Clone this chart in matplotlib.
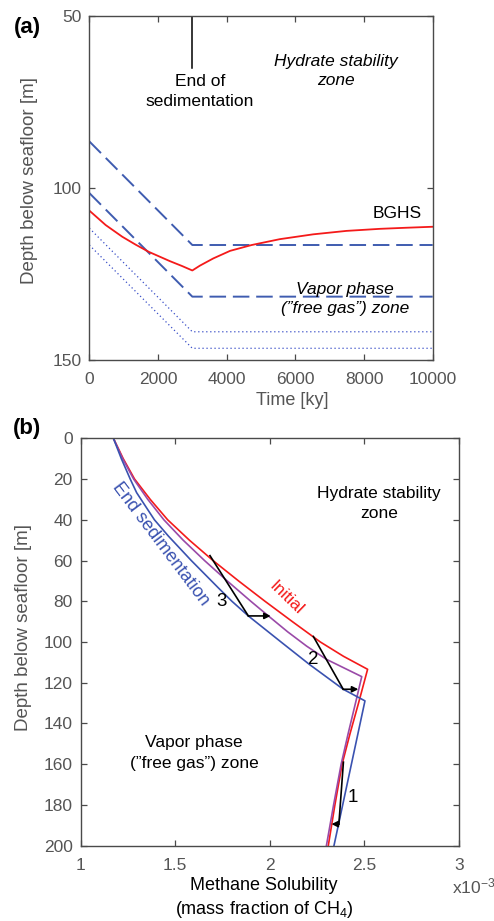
import matplotlib
matplotlib.use("Agg")
import matplotlib.pyplot as plt

plt.rcParams['font.family'] = ['Liberation Sans', 'DejaVu Sans']
plt.rcParams['mathtext.fontset'] = 'custom'
plt.rcParams['mathtext.rm'] = 'Liberation Sans'
plt.rcParams['mathtext.it'] = 'Liberation Sans:italic'

# ---- panel (a): depth of zones vs time ----
seg_time = [0, 3000, 10000]
hsz_upper = [86.5, 116.6, 116.6]     # dashed
hsz_lower = [101.5, 131.6, 131.6]    # dashed
gas_upper = [111.7, 141.8, 141.8]    # dotted
gas_lower = [116.6, 146.6, 146.6]    # dotted

bghs_time = [0, 250, 476, 960, 1350, 1735, 2350, 2700, 3000,
             3220, 3610, 4100, 4730, 5550, 6520, 7490, 8470, 9200, 10000]
bghs_depth = [106.6, 108.8, 110.8, 114.2, 116.5, 118.6, 121.3, 122.7, 124.0,
              122.6, 120.5, 118.3, 116.6, 114.9, 113.5, 112.5, 111.9, 111.6, 111.3]

end_sed_time = 3000
end_sed_depth = [50, 65.3]

# ---- panel (b): methane solubility profiles (x10^-3 mass fraction) ----
init_depth = [0, 10, 20, 30, 40, 50, 60, 70, 80, 90, 100, 107, 113.4,
              130, 145, 160, 180, 200]
init_sol = [1.173, 1.225, 1.285, 1.368, 1.46, 1.575, 1.70, 1.835, 1.975, 2.12,
            2.268, 2.39, 2.518, 2.47, 2.425, 2.383, 2.345, 2.31]

mid_depth = [0, 10, 20, 30, 40, 50, 60, 70, 80, 87.2, 95, 102, 108.5, 117,
             128.4, 145, 160, 180, 200]
mid_sol = [1.173, 1.222, 1.28, 1.355, 1.44, 1.542, 1.655, 1.775, 1.90, 1.993,
           2.095, 2.195, 2.30, 2.487, 2.458, 2.415, 2.378, 2.338, 2.30]

end_depth = [0, 10, 20, 26.7, 40, 48, 60, 73.4, 80, 87.2, 100, 111, 123.2,
             128.9, 200]
end_sol = [1.173, 1.215, 1.262, 1.296, 1.39, 1.464, 1.585, 1.728, 1.80, 1.887,
           2.06, 2.21, 2.389, 2.504, 2.34]

arrow_labels = ['1', '2', '3']
arrow_start_x = [2.39, 2.231, 1.684]
arrow_start_y = [159.0, 97.3, 57.6]
arrow_corner_x = [2.366, 2.389, 1.887]
arrow_corner_y = [189.4, 123.2, 87.2]
arrow_tip_x = [2.327, 2.469, 2.005]
arrow_label_x = [2.439, 2.231, 1.746]
arrow_label_y = [176.3, 108.5, 79.9]

W, H = 494, 921
fig = plt.figure(figsize=(W / 100, H / 100), dpi=100)

spine_col = '#4a4a4a'
tick_col = '#555555'
dash_col = '#3f5cb0'
red = '#f41a1a'


def style_axes(ax, xpad, ypad):
    for s in ax.spines.values():
        s.set_color(spine_col)
        s.set_linewidth(1.0)
    ax.tick_params(direction='in', top=True, right=True, length=4,
                   width=0.9, color=spine_col, labelcolor=tick_col, labelsize=12.5)
    ax.tick_params(axis='x', pad=xpad)
    ax.tick_params(axis='y', pad=ypad)


# panel (a)
ax1 = fig.add_axes([89.3 / W, 1 - 360 / H, 343.4 / W, 344.3 / H])
ax1.plot(seg_time, hsz_upper, color=dash_col, lw=1.4, linestyle=(0, (8.5, 3.5)))
ax1.plot(seg_time, hsz_lower, color=dash_col, lw=1.4, linestyle=(0, (8.5, 3.5)))
ax1.plot(seg_time, gas_upper, color='#3a4fc8', lw=0.9, linestyle=(0, (1, 2.2)))
ax1.plot(seg_time, gas_lower, color='#3a4fc8', lw=0.9, linestyle=(0, (1, 2.2)))
ax1.plot(bghs_time, bghs_depth, color=red, lw=1.3)
ax1.plot([end_sed_time, end_sed_time], end_sed_depth, color='k', lw=1.1)

ax1.set_xlim(0, 10000)
ax1.set_ylim(150, 50)
ax1.set_xticks([0, 2000, 4000, 6000, 8000, 10000])
ax1.set_yticks([50, 100, 150])
style_axes(ax1, 8.5, 5.5)
ax1.set_xlabel('Time [ky]', fontsize=13, color=tick_col)
ax1.xaxis.set_label_coords(0.59, -0.093)
ax1.set_ylabel('Depth below seafloor [m]', fontsize=13.5, color=tick_col)
ax1.yaxis.set_label_coords(-0.15, 0.52)

ax1.text(3220, 72.1, 'End of\nsedimentation', ha='center', va='center',
         fontsize=12.5, linespacing=1.4)
ax1.text(7170, 66.0, 'Hydrate stability\nzone', ha='center', va='center',
         fontsize=12.5, style='italic', linespacing=1.3)
ax1.text(8965, 107.4, 'BGHS', ha='center', va='center', fontsize=12.5)
ax1.text(7450, 132.2, 'Vapor phase\n(\u201dfree gas\u201d) zone', ha='center',
         va='center', fontsize=12.5, style='italic', linespacing=1.3)

# panel (b)
ax2 = fig.add_axes([80.7 / W, 1 - 845.7 / H, 378 / W, 407.4 / H])
ax2.plot(init_sol, init_depth, color=red, lw=1.2)
ax2.plot(mid_sol, mid_depth, color='#9a4aa8', lw=1.2)
ax2.plot(end_sol, end_depth, color='#3a52b0', lw=1.2)

for i in range(len(arrow_labels)):
    ax2.plot([arrow_start_x[i], arrow_corner_x[i]],
             [arrow_start_y[i], arrow_corner_y[i]], color='k', lw=1.2)
    ax2.annotate('', xy=(arrow_tip_x[i], arrow_corner_y[i]),
                 xytext=(arrow_corner_x[i], arrow_corner_y[i]),
                 arrowprops=dict(arrowstyle='-|>', color='k', lw=1.2,
                                 mutation_scale=9, shrinkA=0, shrinkB=0))
    ax2.text(arrow_label_x[i], arrow_label_y[i], arrow_labels[i],
             ha='center', va='center', fontsize=13.5)

ax2.text(1.425, 52.0, 'End sedimentation', color='#3a52b0', fontsize=13,
         rotation=-53, rotation_mode='anchor', ha='center', va='center')
ax2.text(2.085, 78.6, 'Initial', color=red, fontsize=12.5,
         rotation=-44, rotation_mode='anchor', ha='center', va='center')
ax2.text(2.579, 31.9, 'Hydrate stability\nzone', ha='center', va='center',
         fontsize=12.5, linespacing=1.45)
ax2.text(1.6, 154.4, 'Vapor phase\n(\u201dfree gas\u201d) zone', ha='center',
         va='center', fontsize=12.5, linespacing=1.45)

ax2.set_xlim(1, 3)
ax2.set_ylim(200, 0)
ax2.set_xticks([1, 1.5, 2, 2.5, 3])
ax2.set_xticklabels(['1', '1.5', '2', '2.5', '3'])
ax2.set_yticks(range(0, 201, 20))
style_axes(ax2, 9, 5.8)
ax2.set_xlabel('Methane Solubility\n(mass fraction of CH$_4$)', fontsize=13,
               linespacing=1.3)
ax2.xaxis.set_label_coords(0.485, -0.078)
ax2.set_ylabel('Depth below seafloor [m]', fontsize=13.5, color=tick_col)
ax2.yaxis.set_label_coords(-0.13, 0.535)
ax2.text(0.982, -0.1, 'x10$^{-3}$', transform=ax2.transAxes, ha='left',
         va='center', fontsize=12.5, color=tick_col)

fig.text(27 / W, 1 - 27 / H, '(a)', fontsize=16, fontweight='bold',
         ha='center', va='center')
fig.text(27 / W, 1 - 428 / H, '(b)', fontsize=16, fontweight='bold',
         ha='center', va='center')

fig.savefig('out.png', dpi=100)
